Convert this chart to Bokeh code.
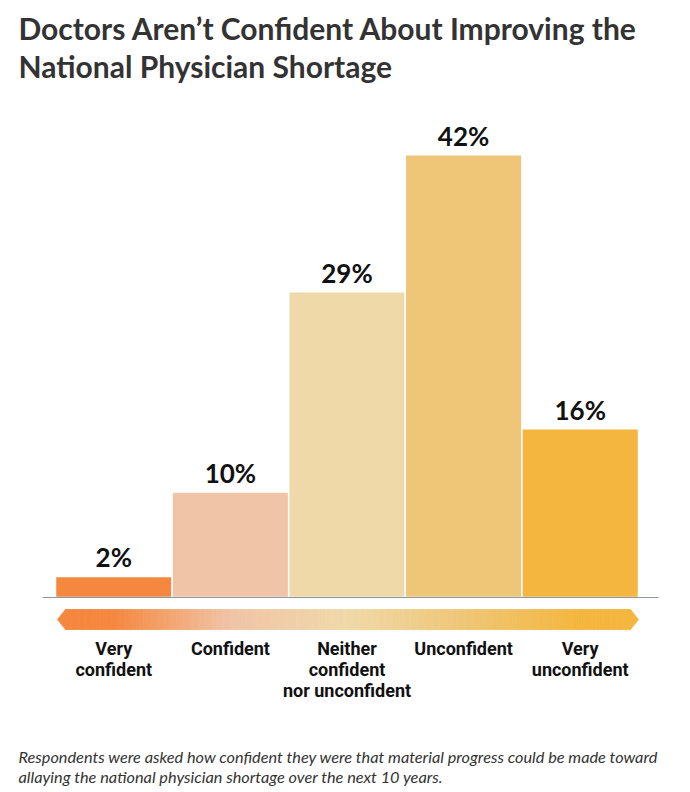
from bokeh.plotting import figure
from bokeh.models import Range1d, Label, ColumnDataSource
from bokeh.core.properties import value
from bokeh.embed import file_html
from bokeh.resources import INLINE

# ---- data -------------------------------------------------------------
categories = ["Very\nconfident", "Confident", "Neither\nconfident\nnor unconfident",
              "Unconfident", "Very\nunconfident"]
values = [2, 10, 29, 42, 16]
value_labels = ["2%", "10%", "29%", "42%", "16%"]
bar_colors = ["#F5873F", "#F0C4A6", "#F0D9A9", "#EFC677", "#F4B63E"]

title_lines = ["Doctors Aren\u2019t Confident About Improving the",
               "National Physician Shortage"]
note_lines = ["Respondents were asked how confident they were that material progress could be made toward",
              "allaying the national physician shortage over the next 10 years."]

# ---- layout (pixels) ----------------------------------------------------
W, H = 690, 792
LEFT_PX = 55          # left edge of first bar
BAR_PX = 116.6        # width of one category slot
BASE_PX = 597         # baseline, measured from top
PX_PER_PCT = 10.54

x0 = -0.5 - LEFT_PX / BAR_PX
x1 = x0 + W / BAR_PX
y0 = -(H - BASE_PX) / PX_PER_PCT
y1 = y0 + H / PX_PER_PCT


def xd(px):
    return x0 + px / BAR_PX


def yd(px_from_top):
    return y1 - px_from_top / PX_PER_PCT


p = figure(width=W, height=H, x_range=Range1d(x0, x1), y_range=Range1d(y0, y1),
           output_backend="svg", toolbar_location=None, min_border=0,
           x_axis_location=None, y_axis_location=None,
           outline_line_color=None, background_fill_color="white",
           border_fill_color="white")
p.grid.visible = False

idx = list(range(len(values)))
src = ColumnDataSource(dict(x=idx, top=values, color=bar_colors, lab=value_labels, cat=categories))

# bars
p.vbar(x="x", top="top", bottom=0, width=1.0, fill_color="color",
       line_color="white", line_width=1.5, source=src)

# baseline
p.segment(x0=[xd(42)], y0=[0], x1=[xd(658)], y1=[0], line_color="#8C99A3", line_width=1.2)

# value labels
p.text(x="x", y="top", text="lab", source=src, text_align="center",
       text_baseline="bottom", y_offset=-3, text_font=value("Lato"),
       text_font_style="bold", text_font_size="26px", text_color="#111111")

# gradient arrow under the axis
def hex_rgb(h):
    h = h.lstrip("#")
    return tuple(int(h[i:i + 2], 16) for i in (0, 2, 4))


stops = [hex_rgb(c) for c in bar_colors]


def blend(xv):
    if xv <= 0:
        return stops[0]
    if xv >= len(stops) - 1:
        return stops[-1]
    i = int(xv)
    t = xv - i
    a, b = stops[i], stops[i + 1]
    return tuple(round(a[k] + (b[k] - a[k]) * t) for k in range(3))


def to_hex(rgb):
    return "#%02x%02x%02x" % rgb


n = 240
bx0, bx1 = xd(65), xd(630)
top_y, bot_y, mid_y = yd(609), yd(629), yd(619)
lefts = [bx0 + (bx1 - bx0) * i / n for i in range(n)]
rights = [bx0 + (bx1 - bx0) * (i + 1) / n for i in range(n)]
cols = [to_hex(blend((l + r) / 2)) for l, r in zip(lefts, rights)]
p.quad(left=lefts, right=rights, top=top_y, bottom=bot_y, fill_color=cols, line_color=cols, line_width=0.8)
p.patch(x=[xd(57), bx0, bx0], y=[mid_y, top_y, bot_y], fill_color=cols[0], line_color=cols[0], line_width=0.8)
p.patch(x=[xd(638), bx1, bx1], y=[mid_y, top_y, bot_y], fill_color=cols[-1], line_color=cols[-1], line_width=0.8)

# category labels
p.text(x="x", y=0, text="cat", source=src, text_align="center", text_baseline="top",
       y_offset=40, text_font=value("Roboto"), text_font_style="bold",
       text_font_size="18px", text_line_height=1.02, text_color="#111111")

# title
for i, line in enumerate(title_lines):
    p.add_layout(Label(x=18, y=H - 45 - 38 * i, x_units="screen", y_units="screen",
                       text=line, text_font="Lato", text_font_style="bold",
                       text_font_size="30px", text_color="#333333"))

# footnote
for i, line in enumerate(note_lines):
    p.add_layout(Label(x=18, y=H - 765 - 20 * i, x_units="screen", y_units="screen",
                       text=line, text_font="Lato", text_font_style="italic",
                       text_font_size="16.3px", text_color="#333333"))

open("out.html", "w").write(file_html(p, INLINE))
